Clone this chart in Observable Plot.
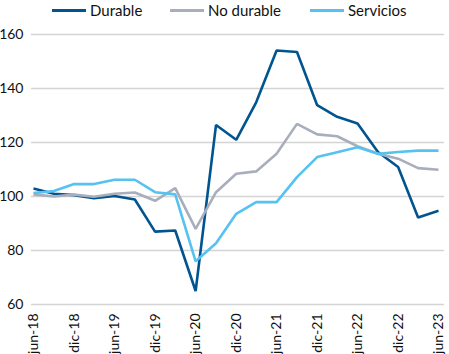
<!DOCTYPE html>
<html>
<head>
<meta charset="utf-8">
<script src="https://cdn.jsdelivr.net/npm/d3@7"></script>
<script src="https://cdn.jsdelivr.net/npm/@observablehq/plot@0.6"></script>
<style>
  html, body { margin: 0; padding: 0; background: #fff; }
  body { width: 449px; height: 354px; overflow: hidden; font-family: Lato, "Open Sans", sans-serif; }
  #legend { height: 20px; position: relative; font-size: 15px; color: #111; }
  .item { position: absolute; top: 0; height: 20px; display: flex; align-items: center; }
  .swatch { width: 34px; height: 3px; margin-right: 4px; }
</style>
</head>
<body>
<div id="legend"></div>
<div id="chart"></div>
<script>
// Quarterly periods
const periods = ["2018-06","2018-09","2018-12","2019-03","2019-06","2019-09","2019-12","2020-03","2020-06","2020-09","2020-12","2021-03","2021-06","2021-09","2021-12","2022-03","2022-06","2022-09","2022-12","2023-03","2023-06"];
const durable   = [103, 101, 100.5, 99.4, 100.2, 98.9, 87, 87.4, 65, 126.5, 121, 134.9, 154.1, 153.5, 133.8, 129.5, 127, 116.5, 110.9, 92.2, 94.7];
const noDurable = [100.8, 100, 100.7, 99.9, 101, 101.5, 98.4, 103.1, 88, 101.6, 108.4, 109.3, 115.8, 126.9, 123, 122.3, 118.6, 115.8, 114, 110.5, 109.9];
const servicios = [101.3, 102, 104.6, 104.6, 106.2, 106.2, 101.6, 100.8, 76, 82.7, 93.6, 97.9, 97.9, 107.2, 114.6, 116.4, 118.2, 115.8, 116.5, 117, 117];
const seriesNames = ["Durable", "No durable", "Servicios"];
const seriesColors = ["#00548f", "#a8aebb", "#56c2f0"];
const tickLabels = ["jun-18","dic-18","jun-19","dic-19","jun-20","dic-20","jun-21","dic-21","jun-22","dic-22","jun-23"];
const yTicks = [60, 80, 100, 120, 140, 160];

const parse = d3.utcParse("%Y-%m");
const monthsEs = {jun: 5, dic: 11};
const tickDates = tickLabels.map(s => {
  const [m, y] = s.split("-");
  return new Date(Date.UTC(2000 + +y, monthsEs[m], 1));
});
const labelOf = new Map(tickDates.map((d, i) => [+d, tickLabels[i]]));

const data = [];
[durable, noDurable, servicios].forEach((vals, k) => {
  vals.forEach((v, i) => data.push({date: parse(periods[i]), value: v, serie: seriesNames[k]}));
});

// Legend
const legendPos = [52, 170, 310];
const legend = document.getElementById("legend");
seriesNames.forEach((n, i) => {
  const it = document.createElement("div");
  it.className = "item";
  it.style.left = legendPos[i] + "px";
  it.innerHTML = `<span class="swatch" style="background:${seriesColors[i]}"></span><span>${n}</span>`;
  legend.appendChild(it);
});

const chart = Plot.plot({
  width: 449,
  height: 334,
  marginTop: 14,
  marginBottom: 50,
  marginLeft: 33,
  marginRight: 11,
  style: {fontFamily: "Lato, 'Open Sans', sans-serif", fontSize: "14px", color: "#111", background: "#fff"},
  x: {type: "utc", domain: [parse(periods[0]), parse(periods[periods.length - 1])]},
  y: {domain: [60, 160]},
  color: {domain: seriesNames, range: seriesColors},
  marks: [
    Plot.ruleY(yTicks, {stroke: "#d4d4d4", strokeWidth: 1.3, insetLeft: -2, insetRight: -6}),
    Plot.axisY({ticks: yTicks, tickSize: 0, tickPadding: 10, label: null, fontSize: 14}),
    Plot.axisX({ticks: tickDates, tickFormat: d => labelOf.get(+d), tickRotate: -90, tickSize: 0, tickPadding: 9, label: null, fontSize: 14}),
    Plot.line(data, {x: "date", y: "value", z: "serie", stroke: "serie", strokeWidth: 2.6, strokeLinejoin: "miter", strokeLinecap: "butt"})
  ]
});
document.getElementById("chart").appendChild(chart);
</script>
</body>
</html>
